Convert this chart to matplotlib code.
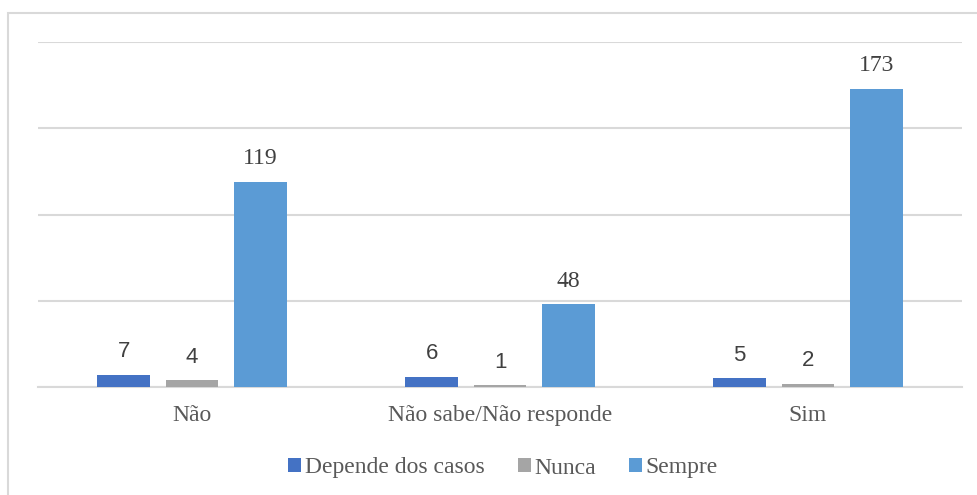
import matplotlib.pyplot as plt
from matplotlib.patches import Rectangle
import numpy as np

categories = ['Não', 'Não sabe/Não responde', 'Sim']
series_names = ['Depende dos casos', 'Nunca', 'Sempre']
depende = [7, 6, 5]
nunca = [4, 1, 2]
sempre = [119, 48, 173]

colors = ['#4472C4', '#A5A5A5', '#5B9BD5']
serif = ['Liberation Serif', 'DejaVu Serif']
sans = ['Liberation Sans', 'DejaVu Sans']

fig = plt.figure(figsize=(9.77, 4.95), dpi=100)
ax = fig.add_axes([38 / 977, 1 - 387 / 495, 924 / 977, 345 / 495])

# light border round the chart area (right/bottom cropped off in the original)
fig.patches.append(Rectangle((8 / 977, -0.1), 1.2, (495 - 13) / 495 + 0.1,
                             transform=fig.transFigure, fill=False,
                             edgecolor='#D9D9D9', linewidth=1.5))

x = np.arange(len(categories))
width = 0.172
step = 0.222
for i, (vals, name) in enumerate(zip([depende, nunca, sempre], series_names)):
    pos = x + (i - 1) * step
    ax.bar(pos, vals, width, color=colors[i], label=name, zorder=3)
    for p, v in zip(pos, vals):
        fam = serif if v >= 10 else sans
        ax.annotate(str(v), (p, v), xytext=(0, 9), textcoords='offset points',
                    ha='center', va='bottom', fontsize=17 if v >= 10 else 16,
                    family=fam, color='#404040')

ax.set_xlim(-0.5, 2.5)
ax.set_ylim(0, 200)
ax.set_yticks([0, 50, 100, 150, 200])
ax.grid(axis='y', color='#D9D9D9', linewidth=1.5, zorder=0)
ax.set_yticklabels([])
ax.tick_params(axis='both', length=0)
ax.set_xticks(x)
ax.set_xticklabels(categories, family=serif, fontsize=17, color='#595959')
ax.tick_params(axis='x', pad=13)
for s in ['top', 'right', 'left']:
    ax.spines[s].set_visible(False)
ax.spines['bottom'].set_color('#D9D9D9')
ax.spines['bottom'].set_linewidth(1.5)

leg = fig.legend(loc='center', bbox_to_anchor=(503 / 977, 1 - 468 / 495), ncol=3,
                 frameon=False, prop={'family': serif, 'size': 17},
                 handlelength=0.55, handleheight=0.55, handletextpad=0.15,
                 columnspacing=1.4)
for t in leg.get_texts():
    t.set_color('#595959')

fig.savefig('out.png', dpi=100)
